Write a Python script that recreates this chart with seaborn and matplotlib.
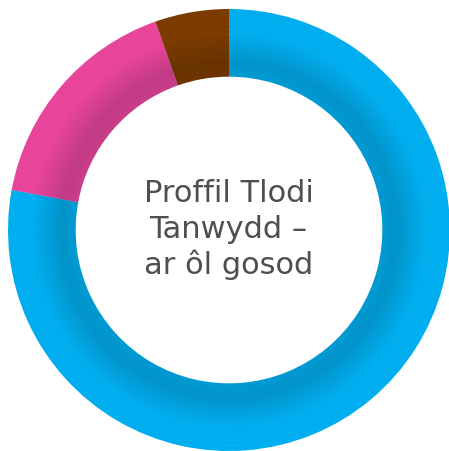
import matplotlib
matplotlib.use("Agg")
import matplotlib.pyplot as plt
import seaborn as sns
import numpy as np

# Data
categories = ["Glas", "Pinc", "Brown"]
values = [77.9, 16.7, 5.4]
bright_colors = ["#00aeef", "#e8449a", "#7a3a00"]
dark_colors = ["#0093c9", "#c03a84", "#683200"]
center_lines = ["Proffil Tlodi", "Tanwydd –", "ar ôl gosod"]

sns.set_style("white")
plt.rcParams['font.family'] = ['DejaVu Sans']

fig = plt.figure(figsize=(4.49, 4.52), dpi=100)
ax = fig.add_axes([0, 0, 1, 1])

R_out = 221 / 220
R_in = 154 / 220
n_rings = 40
edges = np.linspace(R_out, R_in, n_rings + 1)
for i in range(n_rings):
    r_o = edges[i]
    r_i = edges[i + 1]
    t = (i + 0.5) / n_rings  # 0 outer -> 1 inner
    if t < 0.35:
        f = 0.0
    elif t < 0.8:
        f = (t - 0.35) / 0.45
    else:
        f = 1.0 - 0.25 * (t - 0.8) / 0.2
    cols = [sns.blend_palette([b, d], n_colors=101)[int(round(f * 100))]
            for b, d in zip(bright_colors, dark_colors)]
    ax.pie(values, colors=cols, radius=r_o, startangle=90, counterclock=False,
           wedgeprops=dict(width=r_o - r_i + 0.003, linewidth=0, antialiased=True))

# center text, one line per baseline (pixel rows 202, 238, 274)
for line, py in zip(center_lines, [202.5, 238.5, 274.5]):
    ax.text(-0.5 / 220, (231 - py) / 220, line, ha="center", va="baseline",
            fontsize=22, color="#4f4f4f")

ax.set_xlim(-229 / 220, 220 / 220)
ax.set_ylim(-221 / 220, 231 / 220)
ax.set_aspect("auto")
ax.axis("off")

fig.savefig("out.png", dpi=100, facecolor="white")
